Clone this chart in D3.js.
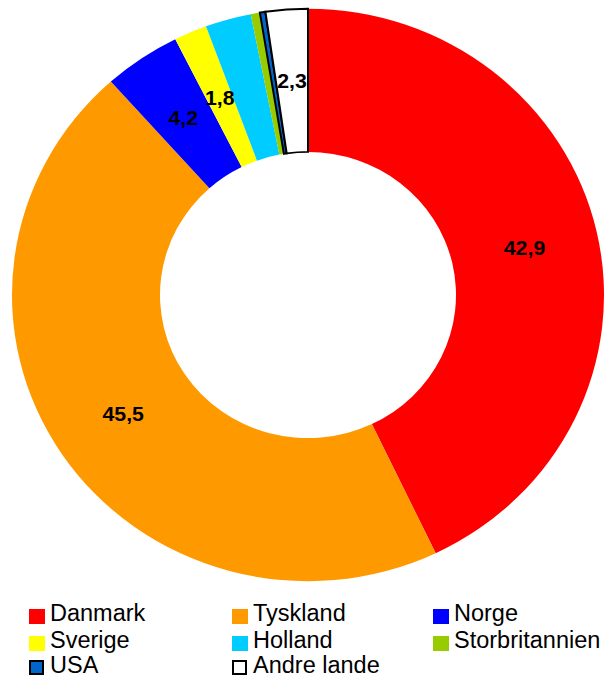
<!DOCTYPE html>
<html><head><meta charset="utf-8">
<script src="https://cdn.jsdelivr.net/npm/d3@7"></script>
<style>body{margin:0;background:#fff}svg{display:block}</style>
</head><body>
<script>
const categories = ["Danmark","Tyskland","Norge","Sverige","Holland","Storbritannien","USA","Andre lande"];
const values = [42.9, 45.5, 4.2, 1.8, 2.5, 0.5, 0.3, 2.3];
const labels = ["42,9","45,5","4,2","1,8","","","","2,3"];
const colors = ["#FF0000","#FF9900","#0000FF","#FFFF00","#00CCFF","#99CC00","#0066CC","#FFFFFF"];
const outlined = [false,false,false,false,false,false,true,true];

const W = 604, H = 681;
const cx = 308, cy = 295, sy = 0.967;
const rOuter = 296, rInner = 148;

const svg = d3.select("body").append("svg").attr("width", W).attr("height", H);
const data = categories.map((c,i)=>({name:c, value:values[i], label:labels[i], color:colors[i], outline:outlined[i]}));
const pie = d3.pie().value(d=>d.value).sort(null);
const arc = d3.arc().innerRadius(rInner).outerRadius(rOuter);
const arcs = pie(data);

const g = svg.append("g").attr("transform", `translate(${cx},${cy}) scale(1,${sy})`);
g.selectAll("path").data(arcs).join("path")
  .attr("d", arc)
  .attr("fill", d=>d.data.color)
  .attr("stroke", d=>d.data.outline ? "#000" : "none")
  .attr("stroke-width", 2);

svg.append("g").selectAll("text").data(arcs.filter(d=>d.data.label)).join("text")
  .attr("transform", d=>`translate(${cx + arc.centroid(d)[0]},${cy + arc.centroid(d)[1]*sy}) scale(1.04,1)`)
  .attr("dy", "0.36em")
  .attr("text-anchor", "middle")
  .attr("font-family", "Liberation Sans, Arial, sans-serif")
  .attr("font-weight", "bold")
  .attr("font-size", 20.5)
  .attr("fill", "#000")
  .text(d=>d.data.label);

const colX = [29, 232, 433], rowY = [621, 648, 673];
const leg = svg.append("g").selectAll("g").data(data).join("g")
  .attr("transform", (d,i)=>`translate(${colX[i%3]},${rowY[Math.floor(i/3)]})`);
leg.append("rect")
  .attr("x", d=>d.outline?1:0).attr("y", d=>d.outline?-12:-12)
  .attr("width", d=>d.outline?13:16).attr("height", d=>d.outline?13:15)
  .attr("fill", d=>d.color)
  .attr("stroke", d=>d.outline?"#000":"none").attr("stroke-width", 2);
leg.append("text")
  .attr("x", 21)
  .attr("font-family", "Liberation Sans, Arial, sans-serif")
  .attr("font-size", 23.5)
  .attr("fill", "#000")
  .text(d=>d.name);
</script>
</body></html>
